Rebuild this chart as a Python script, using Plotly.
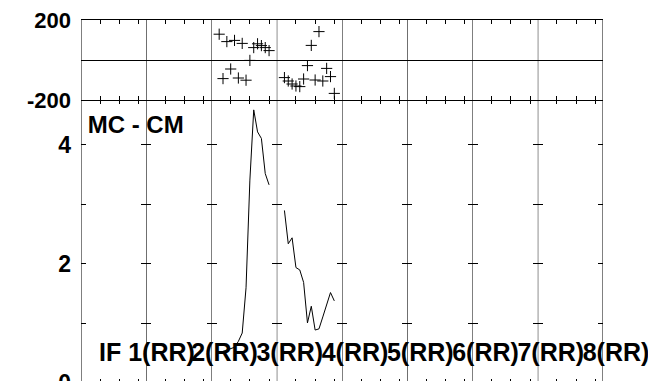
import plotly.graph_objects as go
from plotly.subplots import make_subplots

n_if = 8
if_labels = ["IF 1(RR)", "2(RR)", "3(RR)", "4(RR)", "5(RR)", "6(RR)", "7(RR)", "8(RR)"]
channels = list(range(2, 16))

# only IF 3 and IF 4 have unflagged data
phase_if3 = [129, -93, 92, -45, 98, -90, 83, -101, -2, 62, 81, 72, 62, 47]
phase_if4 = [-88, -105, -120, -130, -133, -95, -28, 73, -100, 142, -105, -42, -83, -167]
amp_if3 = [0.51, 0.53, 0.55, 0.57, 0.60, 0.70, 0.84, 1.60, 3.41, 4.59, 4.22, 4.11, 3.52, 3.33]
amp_if4 = [2.90, 2.34, 2.44, 1.94, 1.90, 1.69, 1.01, 1.29, 0.89, 0.91, 1.11, 1.33, 1.52, 1.38]

phase_ticks = [-200, 200]
phase_ticktext = ["-200", "200"]
amp_ticks = [0, 1, 2, 3, 4]
amp_ticktext = ["0", "", "2", "", "4"]
chan_ticks = [5, 10, 15]
baseline_title = "MC - CM"

chan_range = [0, 17]
phase_range = [-200, 200]
amp_range = [0, 4.756]

bold = dict(family="Liberation Sans", color="black", weight="bold")

# page has an 8px body margin, so the figure is offset and its bottom is cut by the window
fig = make_subplots(rows=2, cols=n_if, row_heights=[80, 283],
                    vertical_spacing=0, horizontal_spacing=0)

data = {3: (phase_if3, amp_if3), 4: (phase_if4, amp_if4)}
for col in range(1, n_if + 1):
    ph, am = data.get(col, ([], []))
    fig.add_trace(go.Scatter(x=channels[:len(ph)], y=ph, mode="markers",
                             marker=dict(symbol="cross-thin", size=8,
                                         line=dict(color="black", width=1))),
                  row=1, col=col)
    fig.add_trace(go.Scatter(x=channels[:len(am)], y=am, mode="lines",
                             line=dict(color="black", width=1)),
                  row=2, col=col)

# IF labels along the bottom of the amplitude panels
for i, lab in enumerate(if_labels):
    lx = 4.7 if i == 0 else 11.7
    fig.add_trace(go.Scatter(x=[lx], y=[0.47], mode="text", text=[lab],
                             textposition="middle right", cliponaxis=False,
                             textfont=dict(size=25, **bold)),
                  row=2, col=i + 1)

fig.add_trace(go.Scatter(x=[1.75], y=[4.294], mode="text", text=[baseline_title],
                         textposition="middle right", cliponaxis=False,
                         textfont=dict(size=24, **bold)),
              row=2, col=1)

for c in range(1, n_if + 1):
    fig.update_xaxes(row=1, col=c, range=chan_range, tickvals=chan_ticks,
                     ticks="inside", ticklen=4, tickcolor="black",
                     showticklabels=False, showline=True, mirror="ticks",
                     linecolor="black", linewidth=1, showgrid=False,
                     zeroline=False, automargin=False)
    fig.update_xaxes(row=2, col=c, range=chan_range, tickvals=chan_ticks,
                     ticks="inside", ticklen=4, tickcolor="black",
                     showticklabels=False, showline=False, mirror="ticks",
                     showgrid=False, zeroline=False, automargin=False)
    fig.update_yaxes(row=1, col=c, range=phase_range, tickvals=phase_ticks,
                     ticktext=phase_ticktext,
                     ticks="", showticklabels=(c == 1), ticklabelstandoff=9,
                     ticklabeloverflow="allow",
                     tickfont=dict(size=22, **bold), showline=False,
                     showgrid=False, zeroline=True, zerolinecolor="black",
                     zerolinewidth=1, automargin=False)
    fig.update_yaxes(row=2, col=c, range=amp_range, tickvals=amp_ticks,
                     ticktext=amp_ticktext, ticks="inside", ticklen=5,
                     tickcolor="black", showticklabels=(c == 1),
                     ticklabelstandoff=9, ticklabeloverflow="allow",
                     tickfont=dict(size=23, **bold),
                     showline=False, mirror="ticks",
                     showgrid=False, zeroline=False, automargin=False)

# panel separators, drawn over the labels
for c in range(1, n_if + 1):
    edges = [0, chan_range[1]] if c == n_if else [0]
    for e in edges:
        fig.add_shape(type="line", xref=f"x{c}", yref="paper", x0=e, x1=e,
                      y0=0, y1=1, layer="above",
                      line=dict(color="black", width=1))

fig.update_layout(template="none", width=656, height=381, showlegend=False,
                  margin=dict(l=73, r=61, t=12, b=6),
                  paper_bgcolor="white", plot_bgcolor="rgba(0,0,0,0)")

fig.write_html("out.html")
